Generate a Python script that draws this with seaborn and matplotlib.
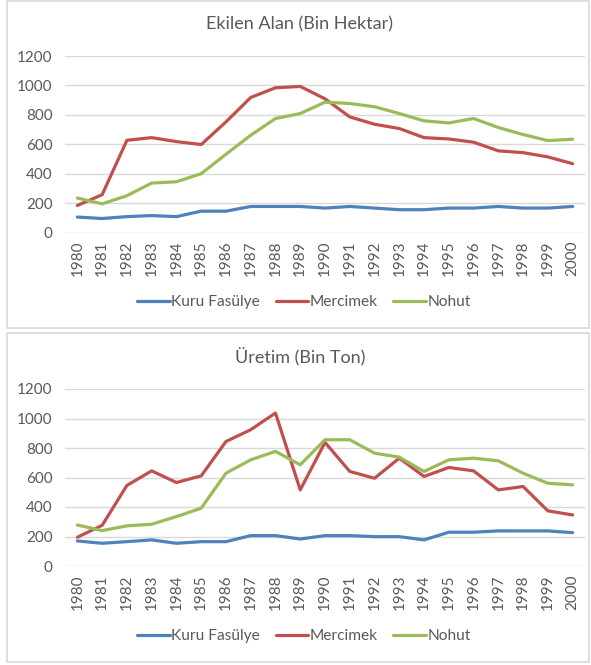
import matplotlib
matplotlib.use("Agg")
import matplotlib.pyplot as plt
import seaborn as sns
import pandas as pd
from matplotlib.patches import Rectangle

years = list(range(1980, 2001))
series_names = ["Kuru Fasülye", "Mercimek", "Nohut"]

alan_kuru = [105, 95, 108, 115, 108, 145, 145, 177, 177, 177, 166, 177, 166, 155, 155, 166, 166, 177, 166, 166, 177]
alan_mercimek = [184, 257, 627, 645, 618, 598, 752, 918, 984, 993, 909, 786, 736, 707, 645, 636, 614, 555, 543, 514, 468]
alan_nohut = [234, 195, 250, 336, 345, 400, 532, 661, 775, 809, 886, 877, 855, 809, 759, 745, 775, 714, 666, 625, 634]

uretim_kuru = [170, 154, 165, 177, 154, 165, 165, 206, 206, 183, 206, 206, 199, 199, 177, 229, 229, 238, 238, 238, 226]
uretim_mercimek = [195, 276, 546, 645, 566, 611, 844, 924, 1037, 516, 838, 641, 595, 731, 607, 668, 645, 516, 539, 374, 346]
uretim_nohut = [278, 240, 272, 283, 335, 392, 629, 720, 777, 686, 856, 856, 765, 738, 641, 720, 731, 713, 629, 561, 550]

titles = ["Ekilen Alan (Bin Hektar)", "Üretim (Bin Ton)"]
y_ticks = [0, 200, 400, 600, 800, 1000, 1200]

colors = {"Kuru Fasülye": "#4F81BD", "Mercimek": "#C0504D", "Nohut": "#9BBB59"}
text_color = "#595959"
grid_color = "#D9D9D9"

def long_df(kuru, merc, noh):
    rows = []
    for name, vals in zip(series_names, [kuru, merc, noh]):
        for y, v in zip(years, vals):
            rows.append({"Yil": y, "Deger": v, "Seri": name})
    return pd.DataFrame(rows)

df_top = long_df(alan_kuru, alan_mercimek, alan_nohut)
df_bot = long_df(uretim_kuru, uretim_mercimek, uretim_nohut)

sns.set_theme(style="white")
plt.rcParams["font.family"] = ["Lato", "DejaVu Sans"]

fig = plt.figure(figsize=(5.91, 6.65), dpi=100)
W, H = 591.0, 665.0

def fx(px):
    return px / W

def fy(py):
    return 1 - py / H

# panel borders
for (x0, y0, x1, y1) in [(7, 1, 589, 328), (7, 333, 589, 662)]:
    fig.patches.append(Rectangle((fx(x0), fy(y1)), fx(x1) - fx(x0), fy(y0) - fy(y1),
                                 transform=fig.transFigure, fill=False,
                                 edgecolor=grid_color, linewidth=1.2, zorder=0))

panels = [
    (df_top, titles[0], 56, 232.5, 24, 302),
    (df_bot, titles[1], 389, 566, 357, 636),
]

for df, title, ytop, ybot, ytitle, yleg in panels:
    ax = fig.add_axes([fx(65), fy(ybot), fx(585) - fx(65), fy(ytop) - fy(ybot)])
    sns.lineplot(data=df, x="Yil", y="Deger", hue="Seri", palette=colors,
                 linewidth=2.3, ax=ax, legend=False)
    ax.set_xlim(1979.5, 2000.5)
    ax.set_ylim(0, 1200)
    ax.set_yticks(y_ticks)
    ax.set_yticklabels([str(t) for t in y_ticks], fontsize=11, color=text_color)
    ax.set_xticks(years)
    ax.set_xticklabels([str(y) for y in years], rotation=90, fontsize=11, color=text_color)
    ax.tick_params(axis="both", length=0)
    ax.tick_params(axis="x", pad=6)
    ax.tick_params(axis="y", pad=9)
    ax.yaxis.grid(True, color=grid_color, linewidth=1)
    ax.xaxis.grid(False)
    for s in ax.spines.values():
        s.set_visible(False)
    ax.set_xlabel("")
    ax.set_ylabel("")
    ax.set_axisbelow(True)
    fig.text(fx(300), fy(ytitle), title, ha="center", va="center", fontsize=13, color=text_color)
    handles = [plt.Line2D([], [], color=colors[n], linewidth=2.3) for n in series_names]
    fig.legend(handles, series_names, loc="center", bbox_to_anchor=(fx(304), fy(yleg)),
               ncol=3, frameon=False, fontsize=11.2, labelcolor=text_color,
               handlelength=2.1, handletextpad=0.1, columnspacing=1.0)

fig.savefig("out.png", dpi=100)
